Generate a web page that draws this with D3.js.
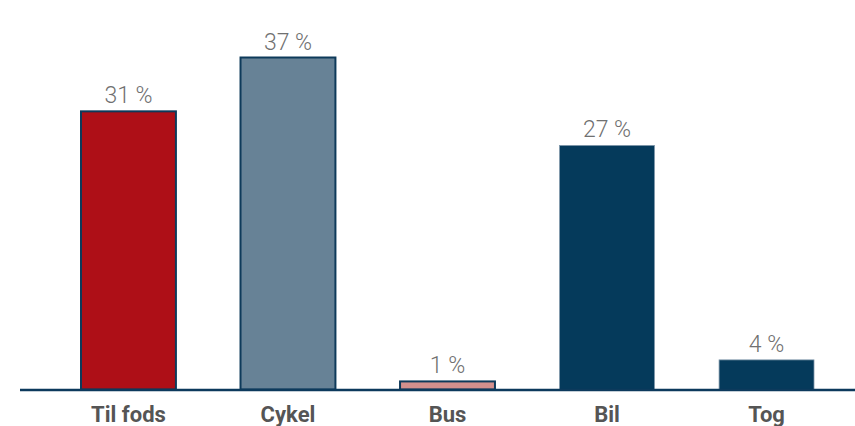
<!DOCTYPE html>
<html><head><meta charset="utf-8">
<script src="https://cdn.jsdelivr.net/npm/d3@7"></script>
<style>html,body{margin:0;padding:0;background:#fff;}svg{display:block;}</style>
</head><body>
<script>
const categories = ["Til fods", "Cykel", "Bus", "Bil", "Tog"];
const values = [31, 37, 0.9, 27.2, 3.3];
const valueLabels = ["31 %", "37 %", "1 %", "27 %", "4 %"];
const colors = ["#ae0f17", "#678296", "#d4908d", "#053a5b", "#053a5b"];
const strokes = ["#0e3a5a", "#0e3a5a", "#0e3a5a", "#7f97aa", "#7f97aa"];

const W = 855, H = 426;
const svg = d3.select("body").append("svg").attr("width", W).attr("height", H);

const x = d3.scaleBand().domain(categories).range([81, 814]).paddingInner(0.405).paddingOuter(0);
const y = d3.scaleLinear().domain([0, 37]).range([389.5, 57.5]);

svg.selectAll("rect.bar").data(categories).enter().append("rect")
  .attr("class", "bar")
  .attr("x", d => x(d))
  .attr("width", x.bandwidth())
  .attr("y", (d, i) => y(values[i]))
  .attr("height", (d, i) => y(0) - y(values[i]))
  .attr("fill", (d, i) => colors[i])
  .attr("stroke", (d, i) => strokes[i])
  .attr("stroke-width", (d, i) => i >= 3 ? 0.8 : 2);

svg.append("line").attr("x1", 20).attr("x2", W).attr("y1", y(0) + 0.5).attr("y2", y(0) + 0.5)
  .attr("stroke", "#0d3a5c").attr("stroke-width", 2.6);

svg.selectAll("text.val").data(categories).enter().append("text")
  .attr("class", "val")
  .attr("x", d => x(d) + x.bandwidth() / 2)
  .attr("y", (d, i) => y(values[i]) - 8)
  .attr("text-anchor", "middle")
  .attr("font-family", "Roboto, 'Open Sans', sans-serif")
  .attr("font-weight", 300)
  .attr("font-size", 23)
  .attr("fill", "#707070")
  .text((d, i) => valueLabels[i]);

const axis = d3.axisBottom(x).tickSize(0).tickPadding(0);
const g = svg.append("g").attr("transform", `translate(0,${y(0)})`).call(axis);
g.select(".domain").remove();
g.selectAll("text")
  .attr("y", 32)
  .attr("dy", 0)
  .attr("font-family", "Roboto, 'Open Sans', sans-serif")
  .attr("font-weight", 700)
  .attr("font-size", 22)
  .attr("fill", "#555555");
</script>
</body></html>
